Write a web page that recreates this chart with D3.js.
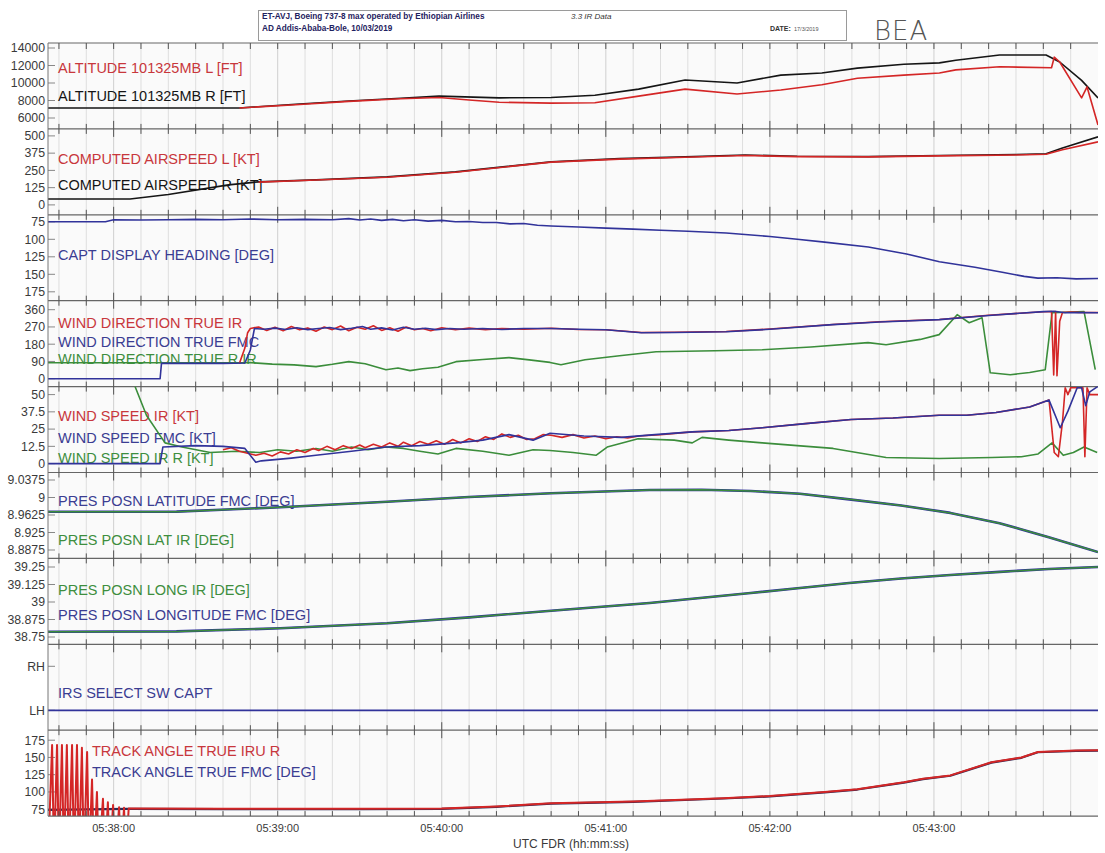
<!DOCTYPE html>
<html><head><meta charset="utf-8">
<script src="https://cdn.jsdelivr.net/npm/d3@7"></script>
<style>
html,body{margin:0;padding:0;background:#fff;}
svg{display:block;font-family:"Liberation Sans",Arial,sans-serif;}
</style></head>
<body><svg id="c" width="1105" height="853"></svg>
<script>
// ---------- DATA (time = seconds after 05:37:00 UTC) ----------
const timeLabels = ["05:38:00","05:39:00","05:40:00","05:41:00","05:42:00","05:43:00"];

const altTicks = [6000, 8000, 10000, 12000, 14000];
const altitudeL = [[106,7150],[128,7550],[146,7900],[165,8200],[179,8350],[190,8050],[201,7800],[220,7700],[236,7750],[252,8500],[269,9300],[288,8750],[304,9200],[319,9800],[332,10550],[349,10900],[362,11150],[368,11500],[384,11850],[403,11750],[404,12950],[406,12400],[414,8300],[416,9550],[420,5200]];
const altitudeR = [[36,7150],[106,7150],[128,7600],[146,7950],[165,8250],[179,8500],[201,8300],[220,8350],[236,8600],[252,9300],[269,10350],[288,10000],[304,10900],[319,11150],[332,11700],[349,12150],[362,12300],[368,12600],[384,13200],[401,13200],[406,12400],[414,10300],[420,8300]];

const speedTicks = [0, 125, 250, 375, 500];
const airspeedL = [[113,165],[134,180],[160,200],[185,237],[220,310],[245,332],[269,345],[291,358],[310,350],[336,348],[362,355],[390,362],[401,367],[407,400],[420,457]];
const airspeedR = [[36,43],[66,43],[80,75],[102,145],[113,167],[134,181],[160,203],[185,239],[220,312],[245,335],[269,348],[291,362],[310,352],[336,350],[362,358],[390,365],[401,370],[407,413],[420,493]];

const headingTicks = [75, 100, 125, 150, 175];
const heading = [[36,75],[57,75],[60,72],[70,72.5],[80,72],[90,71.5],[100,72],[110,71],[120,72],[130,71.5],[140,72],[146,70.5],[150,72.5],[154,71],[158,73],[162,71.5],[166,73.5],[170,72],[175,74],[180,73],[185,75],[190,74.5],[195,76],[200,76],[205,78],[210,77.5],[215,80],[220,81],[230,82.5],[240,84],[250,85.5],[260,87],[270,88.5],[284,91],[300,96],[310,100],[320,104],[336,111],[350,121],[362,132],[375,140],[385,147],[393,153],[398,155.5],[405,155],[412,156.5],[420,156]];

const windDirTicks = [0, 90, 180, 270, 360];
const windDirIR = [[106,80],[108,160],[109,240],[110,262],[113,270],[116,252],[119,268],[122,250],[125,272],[128,255],[131,265],[134,248],[137,270],[140,256],[143,275],[146,250],[149,268],[152,258],[155,276],[158,252],[161,266],[164,248],[167,270],[170,255],[173,262],[176,250],[180,266],[185,255],[190,264],[196,256],[202,262],[210,258],[220,263],[230,257],[240,255],[253,241],[265,242],[284,246],[300,259],[323,283],[340,297],[362,309],[380,331],[400,349],[403,350],[403.8,20],[404.5,350],[405,15],[406,300],[407,345],[410,348],[413,346],[420,345]];
const windDirFMC = [[36,0],[77,0],[77.5,80],[100,80],[108,82],[110,150],[111.5,262],[115,258],[119,264],[123,257],[127,266],[131,256],[135,262],[139,267],[143,256],[147,263],[151,272],[154,258],[158,265],[162,254],[166,268],[170,258],[174,263],[178,256],[183,262],[188,258],[195,262],[202,257],[210,262],[220,262],[230,258],[240,255],[253,240],[265,241],[284,245],[300,258],[323,282],[340,296],[362,308],[380,330],[400,350],[404,352],[408,344],[413,345],[420,344]];
const windDirIRR = [[36,83],[108,83],[110,84],[118,76],[126,72],[134,63],[140,75],[146,89],[152,78],[159.6,47],[164,56],[168.4,42],[173,52],[178.6,60],[185.2,89],[195,100],[204.6,110],[212,98],[219.6,85],[223.6,73],[232.4,99],[245,120],[258.4,141],[280,146],[297.2,151],[315,165],[335.9,188],[342.5,177],[355,205],[361.9,230],[368.5,334],[372.9,292],[377.6,318],[380.6,31],[387.9,21],[395,32],[400.7,47],[403.2,344],[414.9,350],[419,47]];

const windSpdTicks = [0, 12.5, 25, 37.5, 50];
const windSpdIR = [[100,10],[103,11.5],[106,9],[109,7.5],[112,6],[115,7.5],[118,5.5],[121,8.5],[124,7],[127,10],[130,8],[133,11],[135,9.5],[138,12.5],[141,10],[144,13],[147,11],[150,13.5],[152,11.5],[155,14],[158,12],[161,15],[164,12.5],[166,15.5],[169,13],[172,16],[175,14],[178,16.5],[181,14],[184,17.5],[187,15],[190,18],[193,16],[196,19.5],[199,17.5],[202,21.5],[205,19],[208,20.5],[211,17.5],[214,18],[217,21],[220,20.5],[224,19],[228,21],[232,18.5],[236,20],[240,18],[244,19.5],[248,18.5],[252,20],[260,21],[271.6,23],[285,24],[297.2,26],[313,29],[329.7,32],[345,33],[361.9,35],[372,35],[382.7,37],[395,41],[402.1,46],[404,8],[405.5,5],[407,30],[408,55],[409,50],[410,55],[414.5,55],[415.2,5],[416,55],[417,50],[420,50]];
const windSpdFMC = [[36,0],[77,0],[78,12],[90,13],[100,12.5],[108,11],[112,1],[114,2],[125,4],[134,6],[147,9],[159.6,12],[172,13],[185.2,15],[195,17],[204.6,21],[213.4,17],[219.6,22],[232,20],[245.6,19],[258,21],[271.6,23],[285,24],[297.2,26],[313,29],[329.7,32],[345,33],[361.9,35],[372,35],[382.7,37],[395,41],[402.1,46],[406.2,26],[409,38],[412.4,55],[414,55],[415.5,42],[417,52],[420,56]];
const windSpdIRR = [[67.8,56],[72,35],[78.8,15],[85,12],[95.3,8],[105,9],[113.5,8],[120,10],[127,9],[134,11],[140,9],[147,12],[153,10],[159.6,12],[166,11],[172,9],[178.6,7],[185.2,11],[195,9],[204.6,6],[213.4,10],[219.6,9.5],[228,8],[236.4,6],[240.5,12],[251.8,18],[265,17],[271.6,15],[275.2,19],[285,17],[297.2,15],[310,13],[323.1,11],[335,7],[342.5,4.4],[361.9,3.7],[381.3,4.4],[392,5],[398.1,7],[403.2,15],[407.3,6],[411,8],[414.9,12],[419.7,8]];

const latTicks = [8.8875, 8.925, 8.9625, 9, 9.0375];
const latTickLabels = ["8.8875","8.925","8.9625","9","9.0375"];
const latitude = [[36,8.9695],[83,8.9697],[121,8.979],[160,8.991],[190,9.001],[220,9.009],[256,9.016],[275,9.0165],[293,9.014],[311,9.008],[329,8.996],[348,8.983],[366,8.967],[384,8.945],[402,8.915],[420,8.883]];

const lonTicks = [38.75, 38.875, 39, 39.125, 39.25];
const longitude = [[36,38.788],[83,38.790],[121,38.812],[160,38.848],[190,38.89],[220,38.938],[256,38.993],[293,39.064],[311,39.10],[329,39.136],[348,39.168],[366,39.193],[384,39.215],[402,39.236],[420,39.25]];

const irsStates = ["LH","RH"];
const irsSelect = [[36,"LH"],[420,"LH"]];

const trackTicks = [75, 100, 125, 150, 175];
const trackIRU = [[36,0],[37.5,168],[38.2,0],[39.3,168],[40,0],[41.1,168],[41.8,0],[42.9,168],[43.6,0],[44.8,168],[45.5,0],[46.6,168],[47.3,0],[48.4,164],[49.1,0],[50.3,158],[51,0],[52.1,118],[52.8,0],[53.9,100],[54.6,0],[56.1,90],[56.8,0],[57.9,85],[58.6,0],[59.8,81],[60.5,0],[62,78],[62.7,0],[63.8,77],[64.5,0],[65.5,76],[66,76],[100,75.5],[150,75.5],[180,76],[200,79],[220,83.7],[250,86],[283,91],[300,94],[320,100],[332,104],[349,114],[356,119],[366,124],[381,143],[392,150],[398,158],[412,160],[420,160.5]];
const trackFMC = [[36,74],[65,75.5],[100,75],[150,75],[180,75.5],[200,78.5],[220,83.2],[250,85.5],[283,90.5],[300,93.5],[320,99.5],[332,103.5],[349,113.5],[356,118.5],[366,123.5],[381,142.5],[392,149.5],[398,157.5],[412,159.5],[420,160]];

// ---------- LAYOUT ----------
const svg = d3.select("#c");
const X0 = 48, X1 = 1098, TOP = 43, PH = 85.9;
const x = d3.scaleLinear().domain([36, 420]).range([X0, X1]);
const parseT = s => { const p = s.split(":").map(Number); return (p[0]*3600 + p[1]*60 + p[2]) - (5*3600 + 37*60); };

const RED = "#d42626", BLACK = "#151515", BLUE = "#31339a", GREEN = "#3b8d3b";
const RED_T = "#c8373c", BLUE_T = "#3b3d92", GREEN_T = "#3e8e3e";

const panels = [
  {dom:[6000,14000], ticks:altTicks, off:[5,75], series:[[altitudeR,BLACK],[altitudeL,RED]],
   labels:[["ALTITUDE 101325MB L [FT]",RED_T,25,58],["ALTITUDE 101325MB R [FT]",BLACK,53,58]]},
  {dom:[0,500], ticks:speedTicks, off:[7,76], series:[[airspeedR,BLACK],[airspeedL,RED]],
   labels:[["COMPUTED AIRSPEED L [KT]",RED_T,30,58],["COMPUTED AIRSPEED R [KT]",BLACK,56,58]]},
  {dom:[175,75], ticks:headingTicks, off:[7,77], series:[[heading,BLUE]],
   labels:[["CAPT DISPLAY HEADING [DEG]",BLUE_T,40,58]]},
  {dom:[0,360], ticks:windDirTicks, off:[9,78], series:[[windDirIRR,GREEN],[windDirIR,RED],[windDirFMC,BLUE]],
   labels:[["WIND DIRECTION TRUE IR",RED_T,22,58],["WIND DIRECTION TRUE FMC",BLUE_T,41,58],["WIND DIRECTION TRUE R IR",GREEN_T,58,58]]},
  {dom:[0,50], ticks:windSpdTicks, off:[8,77], series:[[windSpdIRR,GREEN],[windSpdIR,RED],[windSpdFMC,BLUE]],
   labels:[["WIND SPEED IR [KT]",RED_T,29,58],["WIND SPEED FMC [KT]",BLUE_T,51,58],["WIND SPEED IR R [KT]",GREEN_T,71,58]]},
  {dom:[8.8875,9.0375], ticks:latTicks, tickLabels:latTickLabels, off:[7.5,77.5], series:[[latitude,BLUE,2.6],[latitude,GREEN,1.5]],
   labels:[["PRES POSN LATITUDE FMC [DEG]",BLUE_T,28,58],["PRES POSN LAT IR [DEG]",GREEN_T,67,58]]},
  {dom:[38.75,39.25], ticks:lonTicks, off:[8.6,78.6], series:[[longitude,BLUE,2.6],[longitude,GREEN,1.5]],
   labels:[["PRES POSN LONG IR [DEG]",GREEN_T,32,58],["PRES POSN LONGITUDE FMC [DEG]",BLUE_T,57,58]]},
  {cat:true, ticks:irsStates, series:[[irsSelect,BLUE,1.8]],
   labels:[["IRS SELECT SW CAPT",BLUE_T,49,58]]},
  {dom:[75,175], ticks:trackTicks, off:[10,79], series:[[trackFMC,"#2a2a55",2.2],[trackIRU,RED,2.0]],
   labels:[["TRACK ANGLE TRUE IRU R",RED_T,21,92],["TRACK ANGLE TRUE FMC [DEG]",BLUE_T,42,92]]}
];

// background
svg.append("rect").attr("x",X0).attr("y",TOP).attr("width",X1-X0).attr("height",PH*9).attr("fill","#fafafa");

// vertical grid lines every 10 s
const gridT = d3.range(40, 420, 10);
svg.append("g").selectAll("line").data(gridT).join("line")
  .attr("x1",d=>x(d)).attr("x2",d=>x(d)).attr("y1",TOP).attr("y2",TOP+PH*9)
  .attr("stroke",d=> d%60===0 ? "#cfcfcf" : "#dedede").attr("stroke-width",1);

// header box
const hdr = svg.append("g");
hdr.append("rect").attr("x",258.5).attr("y",10.5).attr("width",588).attr("height",30).attr("fill","#fff").attr("stroke","#9a9a9a");
hdr.append("text").attr("x",262).attr("y",19).attr("font-size",8.2).attr("font-weight","bold").attr("fill","#1f2260").text("ET-AVJ, Boeing 737-8 max operated by Ethiopian Airlines");
hdr.append("text").attr("x",262).attr("y",31).attr("font-size",8.2).attr("font-weight","bold").attr("fill","#1f2260").text("AD Addis-Ababa-Bole, 10/03/2019");
hdr.append("text").attr("x",571).attr("y",19).attr("font-size",8).attr("font-style","italic").attr("fill","#333").text("3.3 IR Data");
hdr.append("text").attr("x",770).attr("y",31).attr("font-size",7).attr("font-weight","bold").attr("fill","#333").text("DATE:");
hdr.append("text").attr("x",794).attr("y",31).attr("font-size",5.5).attr("fill","#555").text("17/3/2019");
svg.append("text").attr("x",874).attr("y",40).attr("font-size",26).attr("font-family","'DejaVu Sans', sans-serif").attr("font-weight",300).attr("fill","#555").attr("letter-spacing",1).text("BEA");

panels.forEach((p,i) => {
  const top = TOP + i*PH, bot = top + PH;
  let y;
  if (p.cat) {
    y = d3.scalePoint().domain(["LH","RH"]).range([top+66, top+22]);
  } else {
    y = d3.scaleLinear().domain(p.dom).range([top+p.off[1], top+p.off[0]]);
  }
  const g = svg.append("g");
  const cid = "clip"+i;
  svg.append("clipPath").attr("id",cid).append("rect").attr("x",X0).attr("y",top).attr("width",X1-X0).attr("height",PH);
  const tks = p.ticks;
  g.selectAll("text.tl").data(tks).join("text").attr("class","tl")
    .attr("x",45).attr("y",d=>y(d)).attr("dy","0.35em").attr("text-anchor","end")
    .attr("font-size",12.3).attr("fill","#3a3a3a")
    .text((d,j)=> p.tickLabels ? p.tickLabels[j] : d);
  g.selectAll("line.tk").data(tks).join("line").attr("class","tk")
    .attr("x1",X0).attr("x2",X0+7).attr("y1",d=>y(d)).attr("y2",d=>y(d)).attr("stroke","#888");
  p.labels.forEach(l => {
    g.append("text").attr("x",l[3]).attr("y",top+l[2]).attr("dy","0.35em")
      .attr("font-size",14.5).attr("fill",l[1]).text(l[0]);
  });
  const lg = g.append("g").attr("clip-path",`url(#${cid})`);
  p.series.forEach(s => {
    const line = d3.line().x(d=>x(d[0])).y(d=>y(d[1]));
    lg.append("path").attr("d",line(s[0])).attr("fill","none")
      .attr("stroke",s[1]).attr("stroke-width",s[2]||1.6).attr("stroke-linejoin","round");
  });
  g.append("line").attr("x1",X0).attr("x2",X1).attr("y1",bot).attr("y2",bot).attr("stroke","#666").attr("stroke-width",1.2);
  g.selectAll("line.st").data(gridT).join("line").attr("class","st")
    .attr("x1",d=>x(d)).attr("x2",d=>x(d))
    .attr("y1",d=> i===8 ? bot-5 : bot-(d%60===0?8:5)).attr("y2",d=> i===8 ? bot : bot+(d%60===0?8:5))
    .attr("stroke","#555").attr("stroke-width",1);
});

svg.append("line").attr("x1",X0).attr("x2",X1).attr("y1",TOP).attr("y2",TOP).attr("stroke","#666").attr("stroke-width",1.2);
svg.selectAll("line.tt").data(gridT).join("line").attr("class","tt")
  .attr("x1",d=>x(d)).attr("x2",d=>x(d)).attr("y1",TOP).attr("y2",TOP+6).attr("stroke","#555");
svg.append("line").attr("x1",X0).attr("x2",X0).attr("y1",TOP).attr("y2",TOP+PH*9).attr("stroke","#777");

svg.append("g").selectAll("text").data(timeLabels).join("text")
  .attr("x",d=>x(parseT(d))).attr("y",TOP+PH*9+16).attr("text-anchor","middle")
  .attr("font-size",11).attr("fill","#3a3a3a").text(d=>d);
svg.append("text").attr("x",571).attr("y",848).attr("text-anchor","middle").attr("font-size",12).attr("fill","#3a3a3a").text("UTC FDR (hh:mm:ss)");
</script></body></html>
